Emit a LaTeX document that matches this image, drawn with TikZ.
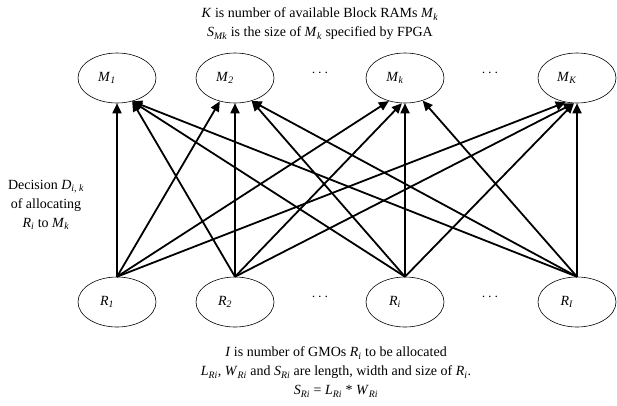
\documentclass[tikz,border=0pt]{standalone}
\usepackage{fontspec}
\setmainfont{Liberation Serif}
\usetikzlibrary{shapes.geometric,arrows.meta}

% italic symbol with an italic subscript
\newcommand\symsub[2]{\textit{#1}\textsubscript{\textit{#2}}}

\tikzset{
  memnode/.style={draw, ellipse, line width=0.6pt, minimum width=78pt,
    minimum height=50pt, inner sep=0pt},
  caption/.style={align=center, font=\fontsize{14}{19}\selectfont, inner sep=0pt},
  alloc/.style={line width=1.8pt, -{Triangle[length=10pt,width=9pt]}},
  dotsnode/.style={inner sep=0pt, font=\fontsize{15}{19}\selectfont}
}

\begin{document}
\begin{tikzpicture}[x=1pt, y=-1pt, font=\fontsize{14}{19}\selectfont]
\useasboundingbox (0,0) rectangle (617,405);

% memory blocks (top row)
\node[memnode, label={[xshift=-10pt]center:\symsub{M}{1}}] (m1) at (117,78) {};
\node[memnode, label={[xshift=-10pt]center:\symsub{M}{2}}] (m2) at (235,78) {};
\node[memnode, label={[xshift=-10pt]center:\symsub{M}{k}}] (mk) at (405,78) {};
\node[memnode, label={[xshift=-10pt]center:\symsub{M}{K}}] (mK) at (577,78) {};
\node[dotsnode] (dt1) at (320,73) {$\cdots$};
\node[dotsnode] (dt2) at (490,73) {$\cdots$};

% GMO requests (bottom row)
\node[memnode, label={[xshift=-10pt]center:\symsub{R}{1}}] (r1) at (117,302) {};
\node[memnode, label={[xshift=-10pt]center:\symsub{R}{2}}] (r2) at (235,302) {};
\node[memnode, label={[xshift=-10pt]center:\symsub{R}{i}}] (ri) at (405,302) {};
\node[memnode, label={[xshift=-10pt]center:\symsub{R}{I}}] (rI) at (577,302) {};
\node[dotsnode] (db1) at (320,297) {$\cdots$};
\node[dotsnode] (db2) at (490,297) {$\cdots$};

% allocation decisions
\draw[alloc] (r1.north) -- (m1.south);
\draw[alloc] (r2.north) -- (m1.-57);
\draw[alloc] (ri.north) -- (m1.-57);
\draw[alloc] (rI.north) -- (m1.-57);

\draw[alloc] (r1.north) -- (m2.-123);
\draw[alloc] (r2.north) -- (m2.south);
\draw[alloc] (ri.north) -- (m2.-54);
\draw[alloc] (rI.north) -- (m2.-54);

\draw[alloc] (r1.north) -- (mk.-125);
\draw[alloc] (r2.north) -- (mk.-97);
\draw[alloc] (ri.north) -- (mk.south);
\draw[alloc] (rI.north) -- (mk.-52);

\draw[alloc] (r1.north) -- (mK.-115);
\draw[alloc] (r2.north) -- (mK.-97);
\draw[alloc] (ri.north) -- (mK.-97);
\draw[alloc] (rI.north) -- (mK.south);

% captions
\node[caption] (top) at (320,24)
  {\textit{K} is number of available Block RAMs \symsub{M}{k}\\
   \symsub{S}{Mk} is the size of \symsub{M}{k} specified by FPGA};
\node[caption] (left) at (46,205)
  {Decision \symsub{D}{i, k}\\ of allocating\\ \symsub{R}{i} to \symsub{M}{k}};
\node[caption] (bottom) at (336,372)
  {\textit{I} is number of GMOs \symsub{R}{i} to be allocated\\
   \symsub{L}{Ri}, \symsub{W}{Ri} and \symsub{S}{Ri} are length, width and size of \symsub{R}{i}.\\
   \symsub{S}{Ri} = \symsub{L}{Ri} * \symsub{W}{Ri}};
\end{tikzpicture}
\end{document}
